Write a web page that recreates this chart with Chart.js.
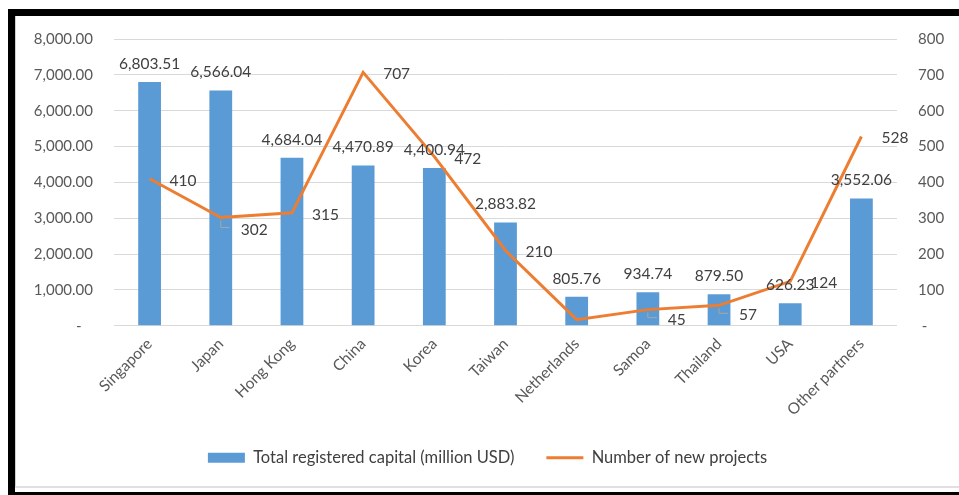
<!DOCTYPE html>
<html>
<head>
<meta charset="utf-8">
<script src="https://cdn.jsdelivr.net/npm/chart.js@4/dist/chart.umd.min.js"></script>
<style>
  html, body { margin: 0; padding: 0; background: #fff; }
  body { width: 959px; height: 495px; position: relative; overflow: hidden; }
  .bar { position: absolute; background: #000; }
  #wrap { position: absolute; left: 16px; top: 16px; width: 943px; height: 460px; }
</style>
</head>
<body>
<div class="bar" style="left:8px;top:9px;width:951px;height:7px"></div>
<div class="bar" style="left:8px;top:9px;width:7px;height:486px"></div>
<div class="bar" style="left:15px;top:16px;width:1px;height:472px;background:#d0d0d0"></div>
<div class="bar" style="left:15px;top:486px;width:944px;height:2px;background:#e0e0e0"></div>
<div class="bar" style="left:8px;top:492px;width:951px;height:3px"></div>
<div id="wrap"><canvas id="chart" width="943" height="460"></canvas></div>
<script>
const categories = ['Singapore', 'Japan', 'Hong Kong', 'China', 'Korea', 'Taiwan', 'Netherlands', 'Samoa', 'Thailand', 'USA', 'Other partners']
const capital = [6803.51, 6566.04, 4684.04, 4470.89, 4400.94, 2883.82, 805.76, 934.74, 879.50, 626.23, 3552.06]
const projects = [410, 302, 315, 707, 472, 210, 17, 45, 57, 124, 528]

Chart.defaults.font.family = 'Lato'
Chart.defaults.font.size = 15
Chart.defaults.color = '#595959'

const fmt2 = v => v.toLocaleString('en-US', { minimumFractionDigits: 2, maximumFractionDigits: 2 })

// data labels like Excel: bar values above, line values to the right
const valueLabels = {
  id: 'valueLabels',
  afterDatasetsDraw: (chart, args, opts) => {
    const ctx = chart.ctx
    ctx.save()
    ctx.font = '15.5px Lato'
    ctx.fillStyle = '#404040'
    ctx.textBaseline = 'middle'

    const barMeta = chart.getDatasetMeta(0)
    ctx.textAlign = 'center'
    barMeta.data.forEach((bar, i) => {
      ctx.fillText(fmt2(capital[i]), bar.x, bar.y - 18)
    })

    const lineMeta = chart.getDatasetMeta(1)
    ctx.textAlign = 'left'
    lineMeta.data.forEach((pt, i) => {
      if (opts.hidden.includes(i)) return
      const drop = opts.below[i] || 0
      const lx = pt.x + 20
      const ly = pt.y + 2 + drop
      if (drop) {
        // leader line
        ctx.strokeStyle = '#a6a6a6'
        ctx.lineWidth = 1
        ctx.beginPath()
        ctx.moveTo(pt.x, pt.y + 3)
        ctx.lineTo(pt.x, ly - 2)
        ctx.lineTo(pt.x + 9, ly - 2)
        ctx.stroke()
      }
      ctx.fillText(String(projects[i]), lx, ly)
    })
    ctx.restore()
  }
}

new Chart(document.getElementById('chart'), {
  data: {
    labels: categories,
    datasets: [
      {
        type: 'bar',
        label: 'Total registered capital (million USD)',
        data: capital,
        backgroundColor: '#5B9BD5',
        borderWidth: 0,
        barPercentage: 0.32,
        categoryPercentage: 1,
        yAxisID: 'y',
        order: 1
      },
      {
        type: 'line',
        label: 'Number of new projects',
        data: projects,
        borderColor: '#ED7D31',
        backgroundColor: '#ED7D31',
        borderWidth: 3,
        pointRadius: 0,
        tension: 0,
        yAxisID: 'y1',
        order: 0
      }
    ]
  },
  options: {
    responsive: false,
    animation: false,
    layout: { padding: { top: 23, left: 0, right: 0, bottom: 0 } },
    scales: {
      x: {
        grid: { display: false },
        border: { display: false },
        ticks: { minRotation: 45, maxRotation: 45, padding: 1, color: '#595959', font: { size: 15.5 } },
        afterFit: scale => { scale.height = 91.75 }
      },
      y: {
        position: 'left',
        min: 0,
        max: 8000,
        ticks: {
          stepSize: 1000,
          padding: 0,
          callback: v => v === 0 ? '-   ' : fmt2(v)
        },
        grid: { color: '#D9D9D9', lineWidth: 1, drawTicks: true, tickLength: 21, tickColor: 'transparent' },
        border: { display: false },
        afterFit: scale => { scale.width = 98 }
      },
      y1: {
        position: 'right',
        min: 0,
        max: 800,
        ticks: {
          stepSize: 100,
          padding: 0,
          callback: v => v === 0 ? ' -' : String(v)
        },
        grid: { drawOnChartArea: false, drawTicks: true, tickLength: 21, tickColor: 'transparent' },
        border: { display: false },
        afterFit: scale => { scale.width = 62 }
      }
    },
    plugins: {
      tooltip: { enabled: false },
      valueLabels: { hidden: [6], below: { 1: 10, 7: 8, 8: 8 } },
      legend: {
        position: 'bottom',
        labels: {
          usePointStyle: true,
          pointStyleWidth: 37,
          boxHeight: 10,
          padding: 32,
          color: '#404040',
          font: { size: 16.5 },
          generateLabels: chart => {
            const items = Chart.defaults.plugins.legend.labels.generateLabels(chart)
            items.sort((a, b) => a.datasetIndex - b.datasetIndex)
            return items.map(it => {
              if (it.datasetIndex === 0) {
                it.pointStyle = 'rect'
                it.lineWidth = 0
              } else {
                it.pointStyle = 'line'
                it.lineWidth = 3
                it.strokeStyle = '#ED7D31'
              }
              return it
            })
          }
        }
      }
    }
  },
  plugins: [valueLabels]
})
</script>
</body>
</html>
